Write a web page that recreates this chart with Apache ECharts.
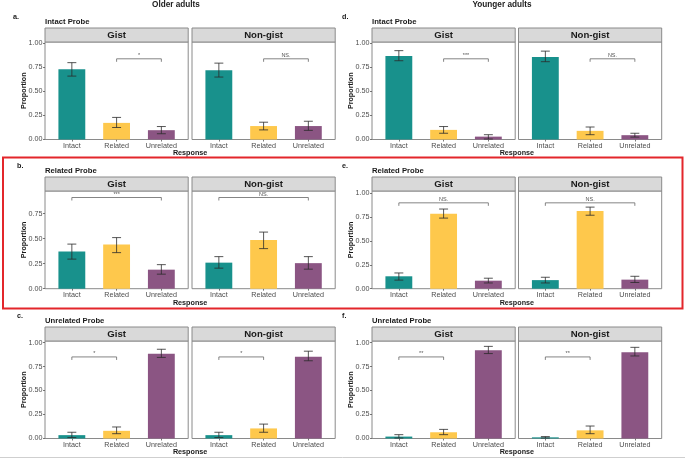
<!DOCTYPE html>
<html><head><meta charset="utf-8">
<script src="https://cdn.jsdelivr.net/npm/echarts@6/dist/echarts.min.js"></script>
<style>html,body{margin:0;padding:0;background:#fff}#c{width:685px;height:459px}</style>
</head><body><div id="c"></div>
<script>
// ---------- data ----------
const groups = ['Older adults', 'Younger adults'];
const probes = ['Intact Probe', 'Related Probe', 'Unrelated Probe'];
const facets = ['Gist', 'Non-gist'];
const responses = ['Intact', 'Related', 'Unrelated'];
const panelLetters = [['a.', 'b.', 'c.'], ['d.', 'e.', 'f.']];
const yTickValues = [0, 0.25, 0.5, 0.75, 1];

// mean proportion per response [Intact, Related, Unrelated]; low / high = error bar ends
const olderIntactGist = [0.732, 0.173, 0.097];
const olderIntactGistLow = [0.66, 0.125, 0.06];
const olderIntactGistHigh = [0.80, 0.23, 0.135];
const olderIntactNongist = [0.72, 0.14, 0.14];
const olderIntactNongistLow = [0.65, 0.10, 0.095];
const olderIntactNongistHigh = [0.795, 0.18, 0.19];

const olderRelatedGist = [0.37, 0.44, 0.19];
const olderRelatedGistLow = [0.295, 0.36, 0.145];
const olderRelatedGistHigh = [0.445, 0.51, 0.24];
const olderRelatedNongist = [0.26, 0.485, 0.255];
const olderRelatedNongistLow = [0.205, 0.40, 0.195];
const olderRelatedNongistHigh = [0.32, 0.565, 0.32];

const olderUnrelatedGist = [0.035, 0.08, 0.883];
const olderUnrelatedGistLow = [0.01, 0.05, 0.845];
const olderUnrelatedGistHigh = [0.065, 0.12, 0.93];
const olderUnrelatedNongist = [0.035, 0.105, 0.852];
const olderUnrelatedNongistLow = [0.01, 0.065, 0.81];
const olderUnrelatedNongistHigh = [0.065, 0.15, 0.91];

const youngerIntactGist = [0.87, 0.10, 0.03];
const youngerIntactGistLow = [0.82, 0.065, 0.005];
const youngerIntactGistHigh = [0.925, 0.135, 0.05];
const youngerIntactNongist = [0.86, 0.09, 0.045];
const youngerIntactNongistLow = [0.81, 0.05, 0.025];
const youngerIntactNongistHigh = [0.92, 0.13, 0.065];

const youngerRelatedGist = [0.13, 0.786, 0.084];
const youngerRelatedGistLow = [0.09, 0.74, 0.06];
const youngerRelatedGistHigh = [0.165, 0.835, 0.11];
const youngerRelatedNongist = [0.09, 0.815, 0.095];
const youngerRelatedNongistLow = [0.06, 0.77, 0.065];
const youngerRelatedNongistHigh = [0.12, 0.855, 0.13];

const youngerUnrelatedGist = [0.02, 0.065, 0.92];
const youngerUnrelatedGistLow = [0.005, 0.04, 0.885];
const youngerUnrelatedGistHigh = [0.04, 0.095, 0.96];
const youngerUnrelatedNongist = [0.012, 0.085, 0.90];
const youngerUnrelatedNongistLow = [0.005, 0.05, 0.86];
const youngerUnrelatedNongistHigh = [0.02, 0.13, 0.95];

// significance annotations: [Gist, Non-gist] per probe
const olderSig = [['*', 'NS.'], ['***', 'NS.'], ['*', '*']];
const youngerSig = [['***', 'NS.'], ['NS.', 'NS.'], ['**', '**']];
const bracketPairs = [[1, 2], [0, 2], [0, 1]]; // response indices per probe
const olderBracketY = [0.84, 0.91, 0.85];
const youngerBracketY = [0.84, 0.90, 0.85];

// ---------- assemble ----------
const means = [
  [[olderIntactGist, olderIntactNongist], [olderRelatedGist, olderRelatedNongist], [olderUnrelatedGist, olderUnrelatedNongist]],
  [[youngerIntactGist, youngerIntactNongist], [youngerRelatedGist, youngerRelatedNongist], [youngerUnrelatedGist, youngerUnrelatedNongist]]
];
const lows = [
  [[olderIntactGistLow, olderIntactNongistLow], [olderRelatedGistLow, olderRelatedNongistLow], [olderUnrelatedGistLow, olderUnrelatedNongistLow]],
  [[youngerIntactGistLow, youngerIntactNongistLow], [youngerRelatedGistLow, youngerRelatedNongistLow], [youngerUnrelatedGistLow, youngerUnrelatedNongistLow]]
];
const highs = [
  [[olderIntactGistHigh, olderIntactNongistHigh], [olderRelatedGistHigh, olderRelatedNongistHigh], [olderUnrelatedGistHigh, olderUnrelatedNongistHigh]],
  [[youngerIntactGistHigh, youngerIntactNongistHigh], [youngerRelatedGistHigh, youngerRelatedNongistHigh], [youngerUnrelatedGistHigh, youngerUnrelatedNongistHigh]]
];
const sigs = [olderSig, youngerSig];
const bracketYs = [olderBracketY, youngerBracketY];

// layout / style
const FONT = '"Liberation Sans", Arial, Helvetica, sans-serif';
const barColors = ['#18918C', '#FEC84C', '#8B5583'];
const borderCol = '#8a8a8a';
const colX = [[45, 192], [372, 518.5]];
const panelW = 143.2;
const rowTop = [42, 191, 341];
const rowBottom = [139.5, 288.7, 438.5];
const yMax = [[1.015, 0.975, 1.016], [1.015, 1.024, 1.016]];
const stripH = 14;
const W = 685;

const grid = [], xAxis = [], yAxis = [], series = [], graphic = [];
let k = 0;
for (let g = 0; g < 2; g++) {
  for (let p = 0; p < 3; p++) {
    for (let f = 0; f < 2; f++) {
      const left = colX[g][f], top = rowTop[p], h = rowBottom[p] - rowTop[p];
      grid.push({left: left, top: top, width: panelW, height: h, show: true,
        borderColor: borderCol, borderWidth: 1, backgroundColor: '#fff', containLabel: false});
      xAxis.push({type: 'value', gridIndex: k, min: 0.4, max: 3.6,
        splitLine: {show: false}, axisLine: {show: false},
        axisTick: {show: true, length: 2, lineStyle: {color: '#555', width: 0.8}, customValues: [1, 2, 3]},
        axisLabel: {show: true, customValues: [1, 2, 3], margin: 3, fontSize: 7.2, color: '#4d4d4d', fontFamily: FONT,
          formatter: v => responses[Math.round(v) - 1]}});
      const ticks = yTickValues.filter(t => t <= yMax[g][p]);
      yAxis.push({type: 'value', gridIndex: k, min: 0, max: yMax[g][p],
        splitLine: {show: false}, axisLine: {show: false},
        axisTick: {show: f === 0, length: 2, lineStyle: {color: '#555', width: 0.8}, customValues: ticks},
        axisLabel: {show: f === 0, customValues: ticks, margin: 2.5, fontSize: 7.2, color: '#4d4d4d', fontFamily: FONT,
          formatter: v => v.toFixed(2)}});
      const m = means[g][p][f], lo = lows[g][p][f], hi = highs[g][p][f];
      series.push({type: 'bar', xAxisIndex: k, yAxisIndex: k, barWidth: panelW * 0.6 / 3.2,
        data: m.map((v, i) => ({value: [i + 1, v], itemStyle: {color: barColors[i]}})),
        silent: true, animation: false});
      series.push({type: 'custom', xAxisIndex: k, yAxisIndex: k, silent: true, animation: false, z: 5,
        data: m.map((v, i) => [i + 1, lo[i], hi[i]]),
        encode: {x: 0, y: [1, 2]},
        renderItem: (params, api) => {
          const x = api.value(0), l = api.value(1), u = api.value(2);
          const pt = api.coord([x, u]), pb = api.coord([x, l]);
          const hw = (api.coord([x + 0.1, u])[0] - pt[0]);
          const st = {stroke: '#2b2b2b', lineWidth: 0.8};
          return {type: 'group', children: [
            {type: 'line', shape: {x1: pt[0], y1: pt[1], x2: pb[0], y2: pb[1]}, style: st},
            {type: 'line', shape: {x1: pt[0] - hw, y1: pt[1], x2: pt[0] + hw, y2: pt[1]}, style: st},
            {type: 'line', shape: {x1: pb[0] - hw, y1: pb[1], x2: pb[0] + hw, y2: pb[1]}, style: st}
          ]};
        }});
      const pair = bracketPairs[p], by = bracketYs[g][p], lab = sigs[g][p][f];
      series.push({type: 'custom', xAxisIndex: k, yAxisIndex: k, silent: true, animation: false, z: 6,
        data: [[pair[0] + 1, pair[1] + 1, by]],
        encode: {x: [0, 1], y: 2},
        renderItem: (params, api) => {
          const a = api.coord([api.value(0), api.value(2)]);
          const b = api.coord([api.value(1), api.value(2)]);
          const d = 3;
          return {type: 'group', children: [
            {type: 'polyline', shape: {points: [[a[0], a[1] + d], [a[0], a[1]], [b[0], b[1]], [b[0], b[1] + d]]},
              style: {stroke: '#666', lineWidth: 0.8, fill: null}},
            {type: 'text', x: (a[0] + b[0]) / 2, y: a[1] - 0.5,
              style: {text: lab, align: 'center', verticalAlign: 'bottom', textAlign: 'center', textVerticalAlign: 'bottom',
                fontSize: 5.5, fontFamily: FONT, fill: '#555'}}
          ]};
        }});
      // strip
      graphic.push({type: 'rect', shape: {x: left, y: top - stripH, width: panelW, height: stripH},
        style: {fill: '#D9D9D9', stroke: borderCol, lineWidth: 1}, z: 10});
      graphic.push({type: 'text', x: left + panelW / 2, y: top - stripH / 2 + 0.5,
        style: {text: facets[f], align: 'center', verticalAlign: 'middle', textAlign: 'center', textVerticalAlign: 'middle',
          font: 'bold 9.6px ' + FONT, fill: '#1a1a1a'}, z: 11});
      k++;
    }
    const cx0 = colX[g][0], cx1 = colX[g][1] + panelW;
    // probe title
    graphic.push({type: 'text', x: cx0, y: rowTop[p] - stripH - 6,
      style: {text: probes[p], align: 'left', verticalAlign: 'middle', textAlign: 'left', textVerticalAlign: 'middle',
        font: 'bold 7.7px ' + FONT, fill: '#1a1a1a'}, z: 11});
    // panel letter
    graphic.push({type: 'text', x: g === 0 ? (p === 0 ? 13 : 17) : 342, y: rowTop[p] - stripH - 11,
      style: {text: panelLetters[g][p], align: 'left', verticalAlign: 'middle', textAlign: 'left', textVerticalAlign: 'middle',
        font: 'bold 7.2px ' + FONT, fill: '#1a1a1a'}, z: 11});
    // x title
    graphic.push({type: 'text', x: (cx0 + cx1) / 2, y: rowBottom[p] + 14,
      style: {text: 'Response', align: 'center', verticalAlign: 'middle', textAlign: 'center', textVerticalAlign: 'middle',
        font: 'bold 7.2px ' + FONT, fill: '#1a1a1a'}, z: 11});
    // y title
    graphic.push({type: 'text', x: g === 0 ? 24 : 351.5, y: (rowTop[p] + rowBottom[p]) / 2, rotation: Math.PI / 2,
      style: {text: 'Proportion', align: 'center', verticalAlign: 'middle', textAlign: 'center', textVerticalAlign: 'middle',
        font: 'bold 7.2px ' + FONT, fill: '#1a1a1a'}, z: 11});
  }
  // group title
  graphic.push({type: 'text', x: g === 0 ? 176 : 502, y: 5,
    style: {text: groups[g], align: 'center', verticalAlign: 'middle', textAlign: 'center', textVerticalAlign: 'middle',
      font: 'bold 8.2px ' + FONT, fill: '#1a1a1a'}, z: 11});
}
// highlight box around middle row
graphic.push({type: 'rect', shape: {x: 3, y: 157.5, width: 679.5, height: 151},
  style: {fill: null, stroke: '#E3262B', lineWidth: 2}, z: 20});
// bottom frame line
graphic.push({type: 'line', shape: {x1: 0, y1: 457.5, x2: W, y2: 457.5}, style: {stroke: '#cfcfcf', lineWidth: 1}, z: 20});

const chart = echarts.init(document.getElementById('c'), null, {renderer: 'canvas'});
chart.setOption({backgroundColor: '#fff', animation: false, grid, xAxis, yAxis, series, graphic});
</script>
</body></html>
